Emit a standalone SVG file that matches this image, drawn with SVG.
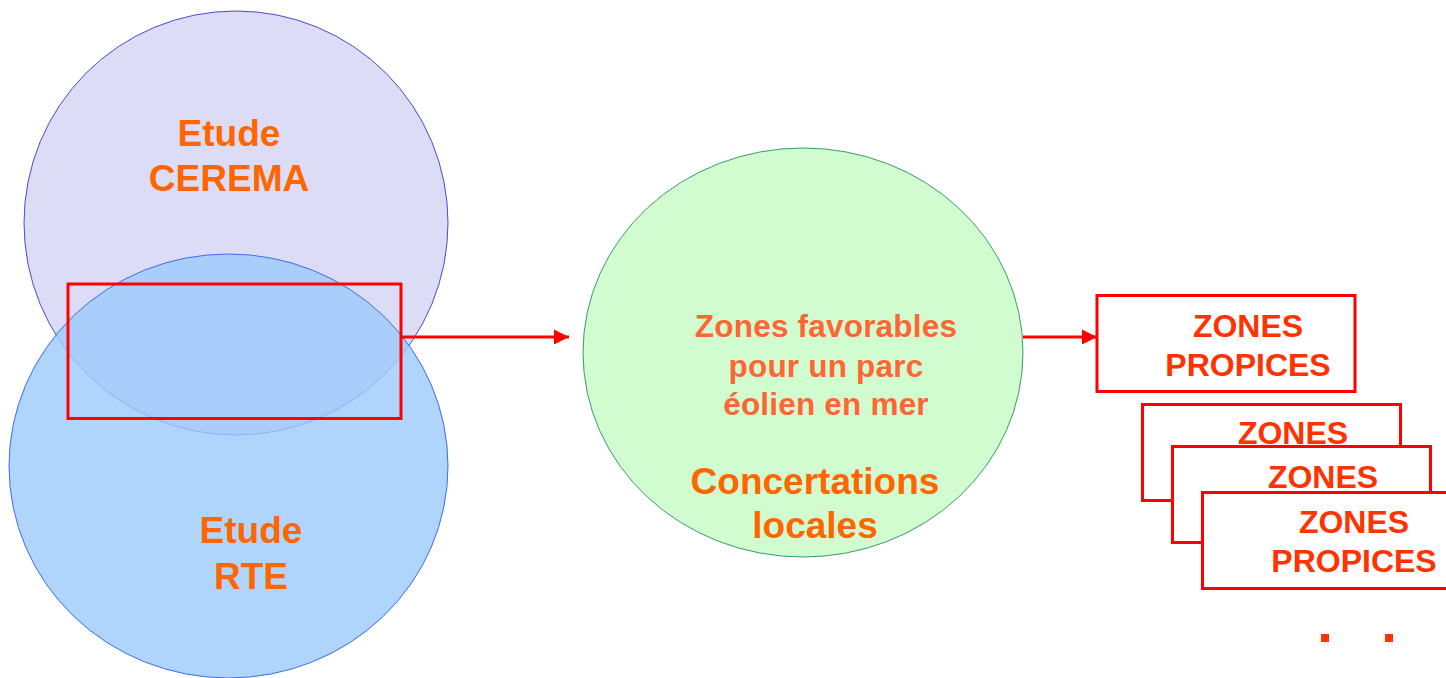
<svg xmlns="http://www.w3.org/2000/svg" width="1446" height="678" viewBox="0 0 1446 678">
<style>
.t{font-family:"Liberation Sans",Arial,sans-serif;font-weight:bold;text-anchor:middle}
.o{fill:#ff6600;font-size:37px}
.g{fill:#ff6633;font-size:31.5px;letter-spacing:0.2px}
.z{fill:#ff3300;font-size:32px}
.box{fill:#ffffff;stroke:#ff0000;stroke-width:3}
.conn{stroke:#ff0000;stroke-width:3;fill:none}
</style>
<defs>
<marker id="ah" markerWidth="16" markerHeight="16" refX="15" refY="8" orient="auto" markerUnits="userSpaceOnUse">
<path d="M0,0.5 L15,8 L0,15.5 Z" fill="#ff0000"/>
</marker>
</defs>
<rect width="1446" height="678" fill="#ffffff"/>
<g id="cerema">
<ellipse cx="236" cy="223" rx="212" ry="212" fill="#dcdcf6" stroke="#4a4ad0" stroke-width="1"/>
<text class="t o" x="229" y="146">Etude</text>
<text class="t o" x="229" y="191">CEREMA</text>
</g>
<g id="rte">
<ellipse cx="228.5" cy="466" rx="219.5" ry="212" fill="#9ccafc" fill-opacity="0.8" stroke="#3a6cf0" stroke-width="1"/>
<text class="t o" x="251" y="543">Etude</text>
<text class="t o" x="251" y="589">RTE</text>
</g>
<g id="selection">
<rect x="68" y="284" width="333" height="134.5" fill="none" stroke="#ff0000" stroke-width="3"/>
</g>
<g id="zones-favorables">
<ellipse cx="803" cy="352.5" rx="220" ry="204.5" fill="#d0fcd0" stroke="#3a9a6a" stroke-width="1"/>
<text class="t g" x="826" y="337">Zones favorables</text>
<text class="t g" x="826" y="377">pour un parc</text>
<text class="t g" x="826" y="415">éolien en mer</text>
<text class="t o" x="815" y="494">Concertations</text>
<text class="t o" x="815" y="538">locales</text>
</g>
<g id="zones-propices-1">
<rect class="box" x="1097" y="295.5" width="258" height="96"/>
<text class="t z" x="1248" y="337">ZONES</text>
<text class="t z" x="1248" y="376">PROPICES</text>
</g>
<g id="zones-propices-2">
<rect class="box" x="1142.5" y="404.5" width="258" height="96"/>
<text class="t z" x="1293" y="444">ZONES</text>
</g>
<g id="zones-propices-3">
<rect class="box" x="1172.5" y="446.5" width="258" height="96"/>
<text class="t z" x="1323" y="488">ZONES</text>
</g>
<g id="zones-propices-4">
<rect class="box" x="1202.5" y="492.5" width="258" height="96"/>
<text class="t z" x="1354" y="533">ZONES</text>
<text class="t z" x="1354" y="572">PROPICES</text>
</g>
<g id="ellipsis">
<rect x="1321" y="634" width="8" height="8" fill="#ff3300"/>
<rect x="1385" y="634" width="8" height="8" fill="#ff3300"/>
</g>
<g id="connectors">
<line class="conn" x1="401" y1="337" x2="569" y2="337" marker-end="url(#ah)"/>
<line class="conn" x1="1023" y1="337" x2="1097" y2="337" marker-end="url(#ah)"/>
</g>
</svg>
